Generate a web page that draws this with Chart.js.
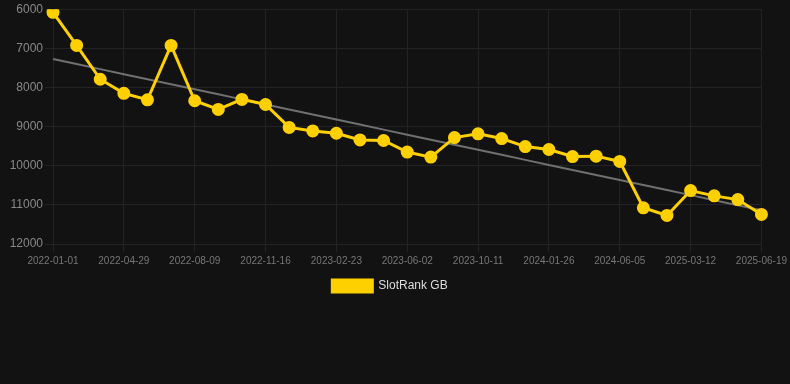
<!DOCTYPE html>
<html>
<head>
<meta charset="utf-8">
<script src="https://cdn.jsdelivr.net/npm/chart.js@4/dist/chart.umd.min.js"></script>
<style>
  html, body { margin: 0; padding: 0; background: #121212; }
  #wrap { position: relative; width: 790px; height: 302px; }
</style>
</head>
<body>
<div id="wrap"><canvas id="c"></canvas></div>
<script>
const categories = [
  "2022-01-01","2022-02-08","2022-03-21","2022-04-29","2022-06-06","2022-07-01",
  "2022-08-09","2022-09-15","2022-10-12","2022-11-16","2022-12-22","2023-01-19",
  "2023-02-23","2023-03-30","2023-05-04","2023-06-02","2023-07-12","2023-08-24",
  "2023-10-11","2023-11-15","2023-12-20","2024-01-26","2024-03-06","2024-04-24",
  "2024-06-05","2024-08-14","2024-11-20","2025-03-12","2025-04-16","2025-05-20",
  "2025-06-19"
];
const slotRankGB = [
  6080, 6925, 7790, 8150, 8315, 6925,
  8340, 8560, 8305, 8435, 9020, 9110,
  9170, 9340, 9355, 9650, 9780, 9280,
  9185, 9305, 9510, 9585, 9765, 9755,
  9890, 11075, 11270, 10635, 10770, 10865,
  11245
];
const yTicks = [6000, 7000, 8000, 9000, 10000, 11000, 12000];

// least-squares trend line over the series
const n = slotRankGB.length;
let sx = 0, sy = 0, sxy = 0, sxx = 0;
slotRankGB.forEach((v, i) => { sx += i; sy += v; sxy += i * v; sxx += i * i; });
const slope = (n * sxy - sx * sy) / (n * sxx - sx * sx);
const intercept = (sy - slope * sx) / n;
const trend = slotRankGB.map((_, i) => intercept + slope * i);

new Chart(document.getElementById('c'), {
  type: 'line',
  data: {
    labels: categories,
    datasets: [
      {
        label: 'SlotRank GB',
        data: slotRankGB,
        borderColor: '#ffd000',
        backgroundColor: '#ffd000',
        borderWidth: 3,
        pointRadius: 5,
        pointHoverRadius: 6,
        pointBackgroundColor: '#ffd000',
        pointBorderColor: '#ffd000',
        tension: 0,
        order: 1
      },
      {
        label: 'trend',
        data: trend,
        borderColor: '#707070',
        borderWidth: 2,
        pointRadius: 0,
        fill: false,
        order: 2
      }
    ]
  },
  options: {
    responsive: true,
    maintainAspectRatio: false,
    animation: false,
    layout: { padding: { top: 3, right: 10, left: 0, bottom: 0 } },
    plugins: {
      legend: {
        position: 'bottom',
        labels: {
          color: '#dddddd',
          font: { family: 'Liberation Sans, Arial, sans-serif', size: 12 },
          boxWidth: 40,
          boxHeight: 12,
          filter: (item) => item.text !== 'trend'
        }
      },
      tooltip: { enabled: false }
    },
    scales: {
      x: {
        offset: false,
        grid: {
          color: (ctx) => (ctx.index % 3 === 0 ? '#232323' : 'rgba(0,0,0,0)'),
          drawTicks: true,
          tickLength: 8
        },
        border: { color: '#232323' },
        ticks: {
          color: '#777777',
          font: { family: 'Liberation Sans, Arial, sans-serif', size: 10 },
          maxRotation: 0,
          autoSkip: false,
          callback: function(v, i) { return i % 3 === 0 ? categories[i] : ''; }
        }
      },
      y: {
        reverse: true,
        min: 6000,
        max: 12000,
        afterBuildTicks: (axis) => { axis.ticks = yTicks.map(v => ({ value: v })); },
        afterFit: (axis) => { axis.width = 53; },
        grid: { color: '#232323', drawTicks: true, tickLength: 8 },
        border: { color: '#232323' },
        ticks: {
          color: '#888888',
          font: { family: 'Liberation Sans, Arial, sans-serif', size: 12 },
          padding: 2,
          callback: (v) => String(v)
        }
      }
    }
  }
});
</script>
</body>
</html>
